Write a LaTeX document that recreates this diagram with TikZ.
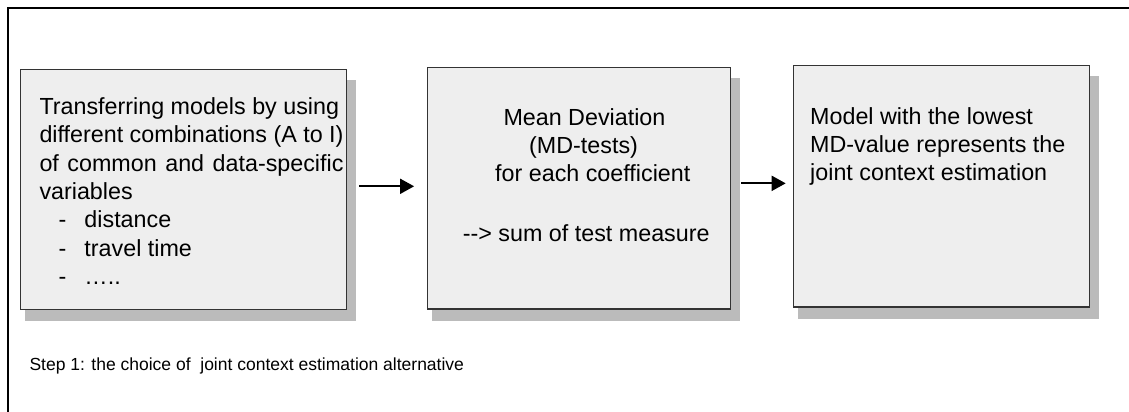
\documentclass[tikz,border=0pt]{standalone}
\usepackage{fontspec}
\setmainfont{Liberation Sans}
\usetikzlibrary{arrows.meta,backgrounds}

\definecolor{boxfill}{HTML}{EEEEEE}
\definecolor{boxshade}{HTML}{BBBBBB}
\definecolor{boxline}{HTML}{333333}

\tikzset{
  stagebox/.style={draw=boxline, fill=boxfill, line width=1.2pt, inner sep=0pt},
  boxtext/.style={anchor=base west, inner sep=0pt,
    font=\fontsize{23.3pt}{28.3pt}\selectfont},
  steptext/.style={anchor=base west, inner sep=0pt,
    font=\fontsize{17.5pt}{21pt}\selectfont},
  flow/.style={line width=1.8pt, -{Triangle[length=14pt,width=15pt]}},
  frameline/.style={line width=2pt, line cap=rect},
}

\begin{document}
\begin{tikzpicture}[x=1pt, y=-1pt]
\useasboundingbox (0,0) rectangle (1129,412);

% outer frame (left and top edges)
\coordinate (fbl) at (8,412);
\coordinate (ftl) at (8,8);
\coordinate (ftr) at (1129,8);
\draw[frameline] (fbl) -- (ftl) -- (ftr);

% the three stages
\node[stagebox, minimum width=326pt, minimum height=240pt]   (b1) at (183.7,189.3) {};
\node[stagebox, minimum width=303pt, minimum height=241.3pt] (b2) at (579.2,188.35) {};
\node[stagebox, minimum width=296pt, minimum height=241.3pt] (b3) at (941.3,186.35) {};

% drop shadows behind the stages
\begin{scope}[on background layer]
  \foreach \b in {b1,b2,b3}
    \fill[boxshade] ([shift={(5pt,-11pt)}]\b.north west) rectangle ([shift={(9pt,-11pt)}]\b.south east);
\end{scope}

% stage 1 text
\node[boxtext] (t11) at (39.3,114.3) {Transferring models by using};
\node[boxtext] (t12) at (39.3,142.6) {\makebox[304pt][s]{different combinations (A to I)}};
\node[boxtext] (t13) at (39.3,171.0) {\makebox[304pt][s]{of common and data-specific}};
\node[boxtext] (t14) at (39.3,199.3) {variables};
\node[boxtext] (t15) at (58.3,227.6) {\makebox[26pt][l]{-}distance};
\node[boxtext] (t16) at (58.3,256.0) {\makebox[26pt][l]{-}travel time};
\node[boxtext] (t17) at (58.3,284.3) {\makebox[26pt][l]{-}…..};

% stage 2 text
\node[boxtext] (t21) at (503.3,125.0) {Mean Deviation};
\node[boxtext] (t22) at (529.0,153.3) {(MD-tests)};
\node[boxtext] (t23) at (495.0,181.6) {for each coefficient};
\node[boxtext] (t24) at (462.7,241.7) {-{}-> sum of test measure};

% stage 3 text
\node[boxtext] (t31) at (810,124.0) {Model with the lowest};
\node[boxtext] (t32) at (810,152.3) {MD-value represents the};
\node[boxtext] (t33) at (810,180.6) {joint context estimation};

% flow between stages
\draw[flow] ([xshift=12pt,yshift=3pt]b1.east) -- ([xshift=-13pt,yshift=3pt]b1.east -| b2.west);
\draw[flow] ([xshift=10pt,yshift=5pt]b2.east) -- ([xshift=-7pt,yshift=5pt]b2.east -| b3.west);

% caption
\node[steptext] (cap) at (29.3,370) {Step 1: the choice of\ \ joint context estimation alternative};
\end{tikzpicture}
\end{document}
